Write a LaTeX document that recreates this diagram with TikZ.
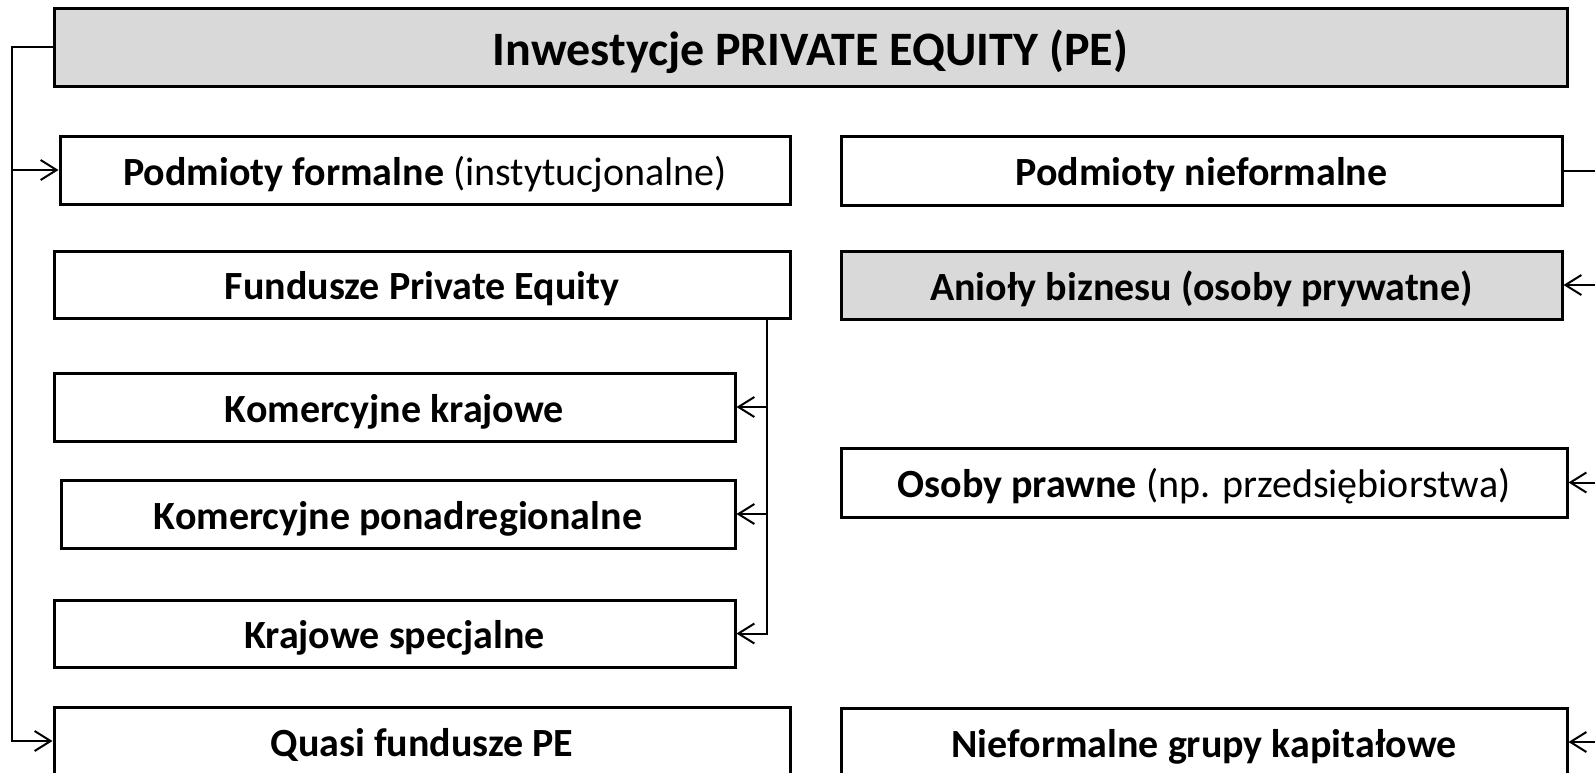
\documentclass[tikz,border=0pt]{standalone}
\usepackage{fontspec}
\setmainfont{Carlito}
\usetikzlibrary{arrows.meta}
\definecolor{boxgrey}{HTML}{D9D9D9}
\begin{document}
\begin{tikzpicture}[x=1pt,y=-1pt,
  box/.style={draw=black, line width=3pt, fill=white, inner sep=0pt, text=black, font=\fontsize{40}{48}\selectfont, text height=34pt, text depth=4pt},
  greybox/.style={box, fill=boxgrey},
  conn/.style={draw=black, line width=2pt},
  arr/.style={conn, -{Straight Barb[length=16pt,width=20pt,line width=2pt]}}]
\useasboundingbox (0,0) rectangle (1595,772);

\node[greybox, minimum width=1513pt, minimum height=78pt, font=\bfseries\fontsize{48}{56}\selectfont, text height=40pt, text depth=3pt] (title) at (810.5,47) {Inwestycje PRIVATE EQUITY (PE)};

\node[box, minimum width=730pt, minimum height=68pt] (pf) at (425,170) {\textbf{Podmioty formalne} (instytucjonalne)};
\node[box, minimum width=721pt, minimum height=69pt] (pn) at (1201.5,170.5) {\textbf{Podmioty nieformalne}};
\node[box, minimum width=736pt, minimum height=67pt] (fpe) at (422,284.5) {\textbf{Fundusze Private Equity}};
\node[greybox, minimum width=721pt, minimum height=68pt] (ab) at (1201.5,285) {\textbf{Anioły biznesu (osoby prywatne)}};
\node[box, minimum width=681pt, minimum height=68pt] (kk) at (394.5,407) {\textbf{Komercyjne krajowe}};
\node[box, minimum width=674pt, minimum height=68pt] (kp) at (398,514) {\textbf{Komercyjne ponadregionalne}};
\node[box, minimum width=681pt, minimum height=67pt] (ks) at (394.5,633.5) {\textbf{Krajowe specjalne}};
\node[box, minimum width=726pt, minimum height=69pt] (op) at (1204,482.5) {\textbf{Osoby prawne} (np. przedsiębiorstwa)};
\node[box, minimum width=736pt, minimum height=68pt] (qf) at (422,741) {\textbf{Quasi fundusze PE}};
\node[box, minimum width=726pt, minimum height=68pt] (ng) at (1204,742) {\textbf{Nieformalne grupy kapitałowe}};

% left trunk
\coordinate (lx) at (12,47);
\draw[arr] (title.west) -- (lx) |- (qf.west);
\draw[arr] (lx |- pf.west) -- (pf.west);

% middle trunk
\coordinate (mx) at (767,0);
\draw[arr] (fpe.south -| mx) |- (ks.east);
\draw[arr] (mx |- kk.east) -- (kk.east);
\draw[arr] (mx |- kp.east) -- (kp.east);

% right side (trunk beyond the picture)
\coordinate (rx) at (1605,0);
\draw[conn] (pn.east) -- (rx |- pn.east);
\draw[arr] (rx |- ab.east) -- (ab.east);
\draw[arr] (rx |- op.east) -- (op.east);
\draw[arr] (rx |- ng.east) -- (ng.east);
\end{tikzpicture}
\end{document}
